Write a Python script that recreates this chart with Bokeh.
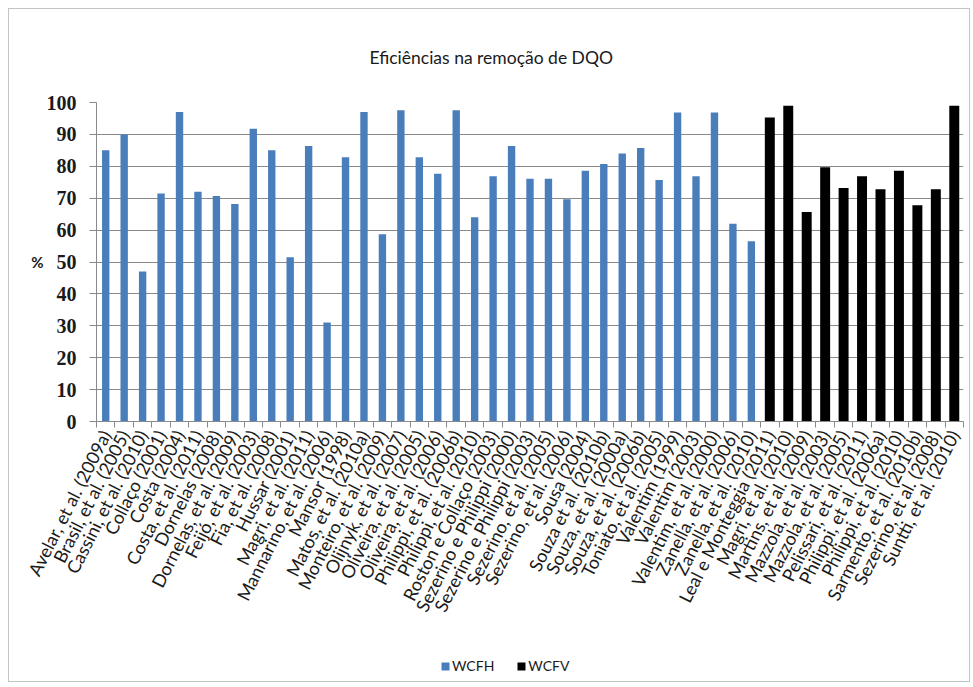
from bokeh.plotting import figure
from bokeh.layouts import column
from bokeh.models import ColumnDataSource, FixedTicker, Legend, LegendItem, Range1d
from bokeh.embed import file_html
from bokeh.resources import INLINE

studies = [
    "Avelar, et al. (2009a)", "Brasil, et al. (2005)", "Cassini, et al. (2010)", "Collaço (2001)",
    "Costa (2004)", "Costa, et al. (2011)", "Dornelas (2008)", "Dornelas, et al. (2009)",
    "Feijó, et al. (2003)", "Fia, et al. (2008)", "Hussar (2001)", "Magri, et al. (2011)",
    "Mannarino, et al. (2006)", "Mansor (1998)", "Matos, et al. (2010a)", "Monteiro, et al. (2009)",
    "Olijnyk, et al. (2007)", "Oliveira, et al. (2005)", "Oliveira, et al. (2006)", "Philippi, et al. (2006b)",
    "Philippi, et al. (2010)", "Roston e Collaço (2003)", "Sezerino e Philippi (2000)", "Sezerino e Philippi (2003)",
    "Sezerino, et al. (2005)", "Sezerino, et al. (2006)", "Sousa (2004)", "Souza et al. (2010b)",
    "Souza, et al. (2000a)", "Souza, et al. (2006b)", "Toniato, et al. (2005)", "Valentim (1999)",
    "Valentim (2003)", "Valentim, et al. (2000)", "Zanella, et al. (2006)", "Zanella, et al. (2010)",
    "Leal e Monteggia (2011)", "Magri, et al. (2010)", "Martins, et al. (2009)", "Mazzola, et al. (2003)",
    "Mazzola, et al. (2005)", "Pelissari, et al. (2011)", "Philippi, et al. (2006a)", "Philippi, et al. (2010)",
    "Sarmento, et al. (2010b)", "Sezerino, et al. (2008)", "Suntti, et al. (2010)",
]

wcfh = [85, 90, 47, 71.5, 97, 72, 70.7, 68.2, 91.8, 85, 51.5, 86.4,
        31, 82.8, 97, 58.7, 97.6, 82.8, 77.7, 97.6, 64, 76.9, 86.4, 76.1,
        76.1, 69.7, 78.6, 80.7, 84, 85.7, 75.7, 96.9, 76.9, 96.9, 62, 56.5]
wcfv = [95.3, 99, 65.7, 79.7, 73.2, 76.9, 72.8, 78.6, 67.8, 72.8, 99]

y_ticks = [0, 10, 20, 30, 40, 50, 60, 70, 80, 90, 100]

title_text = "Eficiências na remoção de DQO"
y_label = "%"
series_names = ["WCFH", "WCFV"]

n_h = len(wcfh)
n_v = len(wcfv)
n = n_h + n_v
x_h = list(range(1, n_h + 1))
x_v = list(range(n_h + 1, n + 1))

src_h = ColumnDataSource(dict(x=x_h, y=wcfh, name=studies[:n_h]))
src_v = ColumnDataSource(dict(x=x_v, y=wcfv, name=studies[n_h:]))

blue = "#4A7EBB"
text_col = "#1a1a1a"

p = figure(frame_width=867, frame_height=319, output_backend="svg", toolbar_location=None,
           x_range=Range1d(0.5, n + 0.5), y_range=Range1d(y_ticks[0], y_ticks[-1]),
           min_border_left=87, min_border_right=6, min_border_top=93, min_border_bottom=220)
p.outline_line_color = None
p.background_fill_color = "white"
p.border_fill_color = "white"

p.title.text = title_text
p.title.align = "left"
p.title.offset = 273
p.title.text_font = "Lato"
p.title.text_font_size = "17.5px"
p.title.text_font_style = "normal"
p.title.text_color = text_col
p.title.standoff = 69

p.vbar(x="x", top="y", width=0.4, source=src_h, fill_color=blue, line_color=None)
p.vbar(x="x", top="y", width=0.54, source=src_v, fill_color="black", line_color=None)

# x axis
xa = p.xaxis[0]
centers = list(range(1, n + 1))
bounds = [i + 0.5 for i in range(0, n + 1)]
xa.ticker = FixedTicker(ticks=centers, minor_ticks=bounds)
xa.major_label_overrides = {i + 1: s for i, s in enumerate(studies)}
xa.major_label_orientation = 1.1
xa.major_tick_out = 0
xa.major_tick_in = 0
xa.minor_tick_out = 6
xa.minor_tick_in = 0
xa.minor_tick_line_color = "#8a8a8a"
xa.axis_line_color = "#8a8a8a"
xa.major_label_text_font = "Lato"
xa.major_label_text_font_size = "18px"
xa.major_label_text_color = text_col
xa.major_label_standoff = 4

ya = p.yaxis[0]
ya.ticker = FixedTicker(ticks=y_ticks)
ya.major_tick_out = 7
ya.major_tick_in = 0
ya.minor_tick_out = 0
ya.minor_tick_in = 0
ya.major_tick_line_color = "#8a8a8a"
ya.axis_line_color = "#8a8a8a"
ya.major_label_text_font = "Liberation Serif"
ya.major_label_text_font_style = "bold"
ya.major_label_text_font_size = "20px"
ya.major_label_text_color = text_col
ya.major_label_standoff = 13
ya.axis_label = y_label
ya.axis_label_orientation = "horizontal"
ya.axis_label_standoff = 0
ya.axis_label_text_font = "Lato"
ya.axis_label_text_font_style = "bold"
ya.axis_label_text_font_size = "15px"
ya.axis_label_text_color = text_col

p.xgrid.grid_line_color = None
p.ygrid.ticker = FixedTicker(ticks=y_ticks)
p.ygrid.grid_line_color = "#8a8a8a"
p.ygrid.grid_line_width = 1

# legend strip below the chart (legend proxies of the same series, hidden in the strip)
lg = figure(frame_width=960, frame_height=40, output_backend="svg", toolbar_location=None,
            x_range=Range1d(0.5, n + 0.5), y_range=Range1d(y_ticks[0], y_ticks[-1]),
            x_axis_location=None, y_axis_location=None,
            min_border_left=0, min_border_right=0, min_border_top=0, min_border_bottom=0)
lg.outline_line_color = None
lg.xgrid.grid_line_color = None
lg.ygrid.grid_line_color = None
lh = lg.vbar(x="x", top="y", width=0.4, source=src_h, fill_color=blue, line_color=None, visible=False)
lv = lg.vbar(x="x", top="y", width=0.54, source=src_v, fill_color="black", line_color=None, visible=False)
legend = Legend(items=[LegendItem(label=series_names[0], renderers=[lh]),
                       LegendItem(label=series_names[1], renderers=[lv])],
                location=(431, 7), orientation="horizontal",
                glyph_width=10, glyph_height=10, label_standoff=2, spacing=22,
                label_height=16, padding=0, margin=0, border_line_color=None, background_fill_alpha=0,
                inactive_fill_alpha=0,
                label_text_font="Lato", label_text_font_size="14px", label_text_color=text_col)
lg.add_layout(legend, "center")

page = column(p, lg, spacing=0, margin=(8, 0, 0, 8), styles={"border": "1px solid #c4c4c4"})

open("out.html", "w").write(file_html(page, INLINE))
